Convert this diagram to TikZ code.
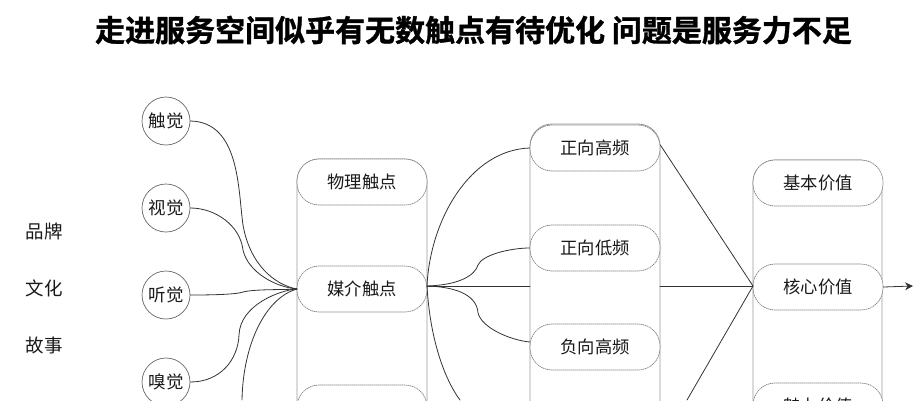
\documentclass[tikz,border=0pt]{standalone}
\usepackage{fontspec}
\setmainfont{Noto Sans CJK SC}
\newfontfamily\titlefont[FakeBold=1.2]{Noto Sans CJK SC Bold}
\usetikzlibrary{positioning,arrows.meta}
\tikzset{
	sense/.style={draw=black!60,line width=0.7pt,circle,minimum size=48pt,inner sep=0pt,text=black!90,font=\fontsize{17.5}{19}\selectfont},
	band/.style={draw=black!40,line width=0.9pt,rounded corners=22pt},
	pill/.style={draw=black!50,line width=0.7pt,dash pattern=on 1pt off 1pt,fill=white,rounded corners=22pt,minimum width=130pt,minimum height=46pt,inner sep=0pt,text=black!90,font=\fontsize{17.3}{19}\selectfont},
	side/.style={text=black!90,font=\fontsize{18.5}{20}\selectfont},
	link/.style={draw=black!80,line width=0.8pt},
}
\begin{document}
\begin{tikzpicture}[x=1pt,y=-1pt,>={Stealth[length=8pt,width=8pt]},line join=round,line cap=round]
	\useasboundingbox (0,0) rectangle (923,400);
	\clip (0,0) rectangle (923,400);
	\node[font=\fontsize{30}{32}\titlefont] (title) at (473.5,30) {走进服务空间似乎有无数触点有待优化 问题是服务力不足};
	% left words
	\node[side] (brand) at (44,231) {品牌};
	\node[side] (culture) at (44,288) {文化};
	\node[side] (story) at (44,345) {故事};
	% senses
	\node[sense] (touch) at (166,121) {触觉};
	\node[sense] (sight) at (166,208) {视觉};
	\node[sense] (hear) at (166,295) {听觉};
	\node[sense] (smell) at (166,382) {嗅觉};
	% columns
	\draw[band] (297,450) -- (297,159) -- (427,159) -- (427,450);
	\draw[band] (530,450) -- (530,124) -- (660,124) -- (660,450);
	\draw[band] (753,450) -- (753,160) -- (882,160) -- (882,450);
	\node[pill] (physical) at (362,182) {物理触点};
	\node[pill] (media) at (362,289) {媒介触点};
	\node[pill] (third) at (362,408) {};
	\node[pill] (poshigh) at (595,148) {正向高频};
	\node[pill] (poslow) at (595,248) {正向低频};
	\node[pill] (neghigh) at (595,347) {负向高频};
	\node[pill] (basic) at (818,183) {基本价值};
	\node[pill] (core) at (818,287) {核心价值};
	\node[pill] (charm) at (818,406) {魅力价值};
	\coordinate (hub) at (297,289);
	\coordinate (out) at (427,286);
	\coordinate (in) at (660,286);
	\coordinate (join) at (753,286);
	\coordinate (end) at (913,286);
	\coordinate (low1) at (242,400);
	\coordinate (low2) at (460,400);
	\coordinate (low3) at (687,400);
	\draw[link] (touch.east) .. controls (240,122) and (238,190) .. (243,225) .. controls (250,265) and (275,285) .. (hub);
	\draw[link] (sight.east) .. controls (215,208) and (240,225) .. (243,250) .. controls (248,272) and (275,287) .. (hub);
	\draw[link] (hear.east) .. controls (200,295) and (235,295) .. (243,292) .. controls (255,289) and (280,290) .. (hub);
	\draw[link] (smell.east) .. controls (220,382) and (238,360) .. (239,335) .. controls (240,305) and (280,290) .. (hub);
	\draw[link] (low1) .. controls (243,345) and (265,298) .. (hub);
	\draw[link] (out) .. controls (430,220) and (470,150) .. (poshigh.west);
	\draw[link] (out) .. controls (460,285) and (475,275) .. (478,265) .. controls (482,255) and (510,248) .. (poslow.west);
	\draw[link] (out) -- (530,286);
	\draw[link] (out) .. controls (460,287) and (477,297) .. (478,313) .. controls (482,328) and (510,340) .. ([yshift=5pt]neghigh.west);
	\draw[link] (out) .. controls (430,340) and (445,380) .. (low2);
	\draw[link] ([yshift=3pt]poshigh.east) -- (join);
	\draw[link] (in) -- (join);
	\draw[link] (low3) -- (join);
	\draw[link,->] (core.east) -- (end);
\end{tikzpicture}
\end{document}
